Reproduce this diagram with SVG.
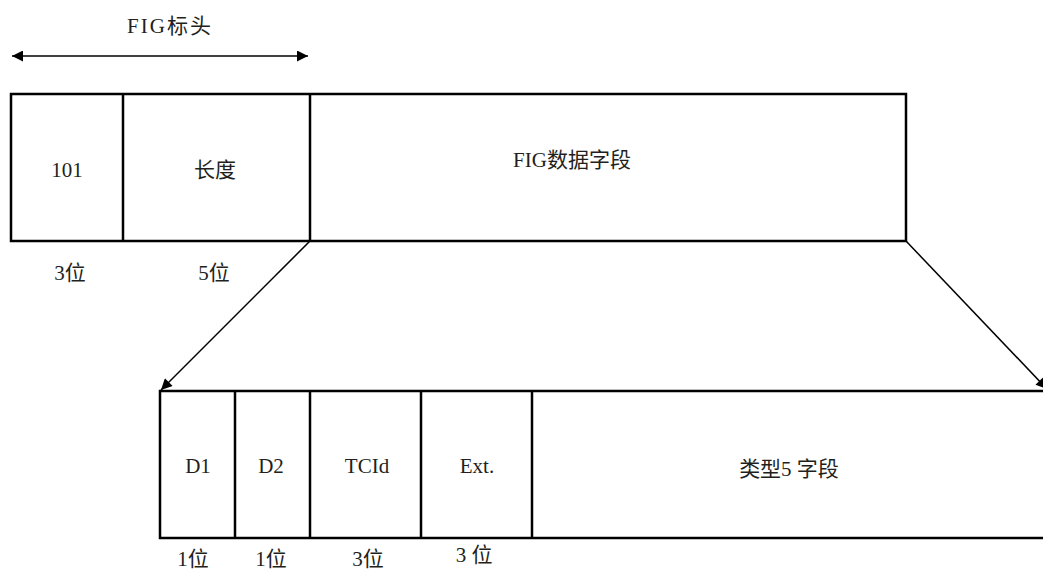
<svg xmlns="http://www.w3.org/2000/svg" width="1043" height="571" viewBox="0 0 1043 571">
<style>
.box{fill:none;stroke:#000;stroke-width:2.5}
.div{stroke:#000;stroke-width:2.5}
.t{font-family:"Liberation Serif","Noto Sans CJK SC",serif;font-size:21px;fill:#231f20;text-anchor:middle}
.con{stroke:#000;stroke-width:1.5;fill:none}
</style>
<defs>
<marker id="ah" viewBox="0 0 10 10" refX="10" refY="5" markerWidth="17" markerHeight="11" markerUnits="userSpaceOnUse" orient="auto-start-reverse">
<path d="M0,0 L10,5 L0,10 Z" fill="#000"/>
</marker>
</defs>
<rect width="1043" height="571" fill="#fff"/>
<g id="header-label">
<text class="t" x="170" y="33" style="letter-spacing:2px">FIG标头</text>
</g>
<g id="top-record">
<rect class="box" x="11" y="94" width="895" height="147"/>
<line class="div" x1="123" y1="94" x2="123" y2="241"/>
<line class="div" x1="310" y1="94" x2="310" y2="241"/>
</g>
<g id="n101"><text class="t" x="67" y="177">101</text></g>
<g id="nlen"><text class="t" x="215" y="177">长度</text></g>
<g id="ndata"><text class="t" x="572" y="167">FIG数据字段</text></g>
<g id="top-bits">
<text class="t" x="70" y="280">3位</text>
<text class="t" x="214" y="280">5位</text>
</g>
<g id="bottom-record">
<rect class="box" x="160" y="391" width="900" height="147"/>
<line class="div" x1="235" y1="391" x2="235" y2="538"/>
<line class="div" x1="310" y1="391" x2="310" y2="538"/>
<line class="div" x1="421" y1="391" x2="421" y2="538"/>
<line class="div" x1="532" y1="391" x2="532" y2="538"/>
</g>
<g id="nd1"><text class="t" x="198" y="473">D1</text></g>
<g id="nd2"><text class="t" x="271" y="473">D2</text></g>
<g id="ntcid"><text class="t" x="367" y="473">TCId</text></g>
<g id="next"><text class="t" x="477" y="473">Ext.</text></g>
<g id="ntype5"><text class="t" x="789" y="476">类型5 字段</text></g>
<g id="bottom-bits">
<text class="t" x="193" y="566">1位</text>
<text class="t" x="271" y="566">1位</text>
<text class="t" x="368" y="566">3位</text>
<text class="t" x="474" y="562">3 位</text>
</g>
<g id="connectors">
<line class="con" x1="12" y1="56" x2="308" y2="56" marker-start="url(#ah)" marker-end="url(#ah)"/>
<line class="con" x1="310" y1="241" x2="161" y2="390" marker-end="url(#ah)"/>
<line class="con" x1="906" y1="241" x2="1047" y2="389" marker-end="url(#ah)"/>
</g>
</svg>
